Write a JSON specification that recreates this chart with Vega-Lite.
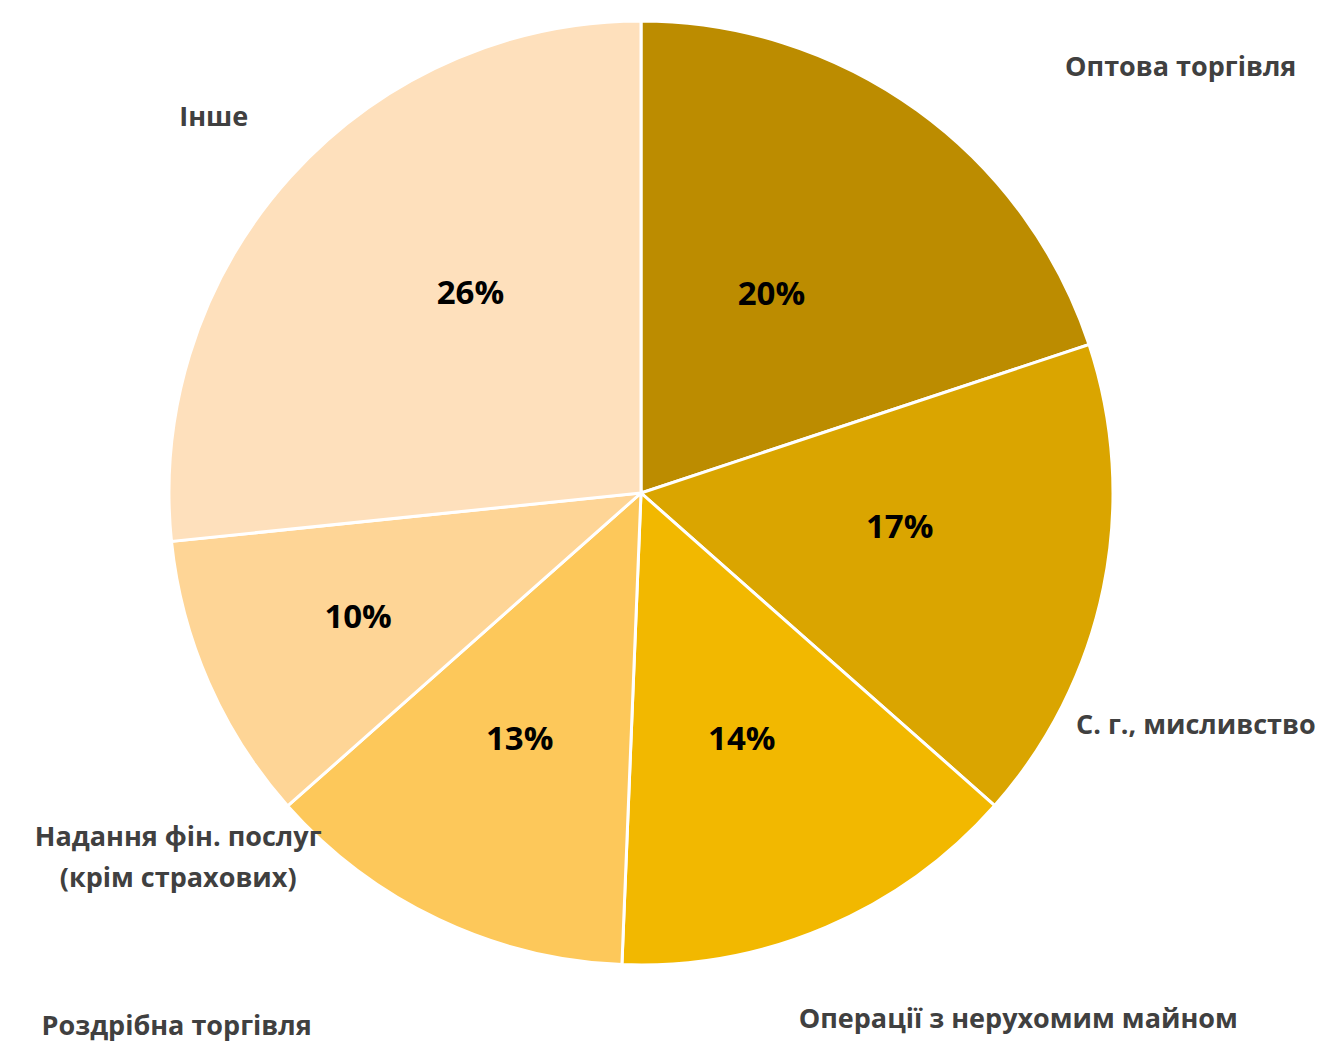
{
  "$schema": "https://vega.github.io/schema/vega-lite/v6.json",
  "width": 1282,
  "height": 986,
  "autosize": {"type": "none"},
  "padding": {"left": 0, "top": 0, "right": 41, "bottom": 57},
  "background": "white",
  "config": {"view": {"stroke": null}, "text": {"font": "Open Sans", "fontWeight": "bold"}},
  "data": {
    "values": [
      {"i": 1, "cat": "Оптова торгівля", "share": 0.198},
      {"i": 2, "cat": "С. г., мисливство", "share": 0.1652},
      {"i": 3, "cat": "Операції з нерухомим майном", "share": 0.1405},
      {"i": 4, "cat": "Роздрібна торгівля", "share": 0.1275},
      {"i": 5, "cat": "Надання фін. послуг\n(крім страхових)", "share": 0.0985},
      {"i": 6, "cat": "Інше", "share": 0.2649}
    ]
  },
  "encoding": {
    "theta": {"field": "share", "type": "quantitative", "stack": true},
    "order": {"field": "i", "type": "quantitative"}
  },
  "layer": [
    {
      "mark": {"type": "arc", "outerRadius": 472, "stroke": "white", "strokeWidth": 3},
      "encoding": {
        "color": {
          "field": "cat", "type": "nominal", "legend": null,
          "scale": {
            "domain": ["Оптова торгівля", "С. г., мисливство", "Операції з нерухомим майном", "Роздрібна торгівля", "Надання фін. послуг\n(крім страхових)", "Інше"],
            "range": ["#BC8C00", "#DAA500", "#F2B800", "#FDC85A", "#FED596", "#FEE0BC"]
          }
        }
      }
    },
    {"mark": {"type": "text", "radius": 262, "fontSize": 33, "fill": "#000000", "align": "center", "baseline": "middle", "dx": -23, "dy": 14},
     "encoding": {"text": {"condition": {"test": "datum.i === 1", "field": "share", "type": "quantitative", "format": ".0%"}, "value": ""}}},
    {"mark": {"type": "text", "radius": 262, "fontSize": 33, "fill": "#000000", "align": "center", "baseline": "middle", "dx": 2, "dy": -18},
     "encoding": {"text": {"condition": {"test": "datum.i === 2", "field": "share", "type": "quantitative", "format": ".0%"}, "value": ""}}},
    {"mark": {"type": "text", "radius": 262, "fontSize": 33, "fill": "#000000", "align": "center", "baseline": "middle", "dx": -2, "dy": 6},
     "encoding": {"text": {"condition": {"test": "datum.i === 3", "field": "share", "type": "quantitative", "format": ".0%"}, "value": ""}}},
    {"mark": {"type": "text", "radius": 262, "fontSize": 33, "fill": "#000000", "align": "center", "baseline": "middle", "dx": -9, "dy": 10},
     "encoding": {"text": {"condition": {"test": "datum.i === 4", "field": "share", "type": "quantitative", "format": ".0%"}, "value": ""}}},
    {"mark": {"type": "text", "radius": 262, "fontSize": 33, "fill": "#000000", "align": "center", "baseline": "middle", "dx": -43, "dy": 20},
     "encoding": {"text": {"condition": {"test": "datum.i === 5", "field": "share", "type": "quantitative", "format": ".0%"}, "value": ""}}},
    {"mark": {"type": "text", "radius": 262, "fontSize": 33, "fill": "#000000", "align": "center", "baseline": "middle", "dx": 24, "dy": -23},
     "encoding": {"text": {"condition": {"test": "datum.i === 6", "field": "share", "type": "quantitative", "format": ".0%"}, "value": ""}}},
    {"mark": {"type": "text", "radius": 500, "fontSize": 27, "fill": "#404040", "align": "center", "baseline": "middle", "dx": 247, "dy": -20},
     "encoding": {"text": {"condition": {"test": "datum.i === 1", "field": "cat", "type": "nominal"}, "value": ""}}},
    {"mark": {"type": "text", "radius": 500, "fontSize": 27, "fill": "#404040", "align": "center", "baseline": "middle", "dx": 65, "dy": 133},
     "encoding": {"text": {"condition": {"test": "datum.i === 2", "field": "cat", "type": "nominal"}, "value": ""}}},
    {"mark": {"type": "text", "radius": 500, "fontSize": 27, "fill": "#404040", "align": "center", "baseline": "middle", "dx": 181, "dy": 67},
     "encoding": {"text": {"condition": {"test": "datum.i === 3", "field": "cat", "type": "nominal"}, "value": ""}}},
    {"mark": {"type": "text", "radius": 500, "fontSize": 27, "fill": "#404040", "align": "center", "baseline": "middle", "dx": -250, "dy": 82},
     "encoding": {"text": {"condition": {"test": "datum.i === 4", "field": "cat", "type": "nominal"}, "value": ""}}},
    {"mark": {"type": "text", "radius": 500, "fontSize": 27, "fill": "#404040", "align": "center", "baseline": "middle", "dx": -5, "dy": 144, "lineBreak": "\n", "lineHeight": 41},
     "encoding": {"text": {"condition": {"test": "datum.i === 5", "field": "cat", "type": "nominal"}, "value": ""}}},
    {"mark": {"type": "text", "radius": 500, "fontSize": 27, "fill": "#404040", "align": "center", "baseline": "middle", "dx": -56, "dy": -40},
     "encoding": {"text": {"condition": {"test": "datum.i === 6", "field": "cat", "type": "nominal"}, "value": ""}}}
  ]
}
